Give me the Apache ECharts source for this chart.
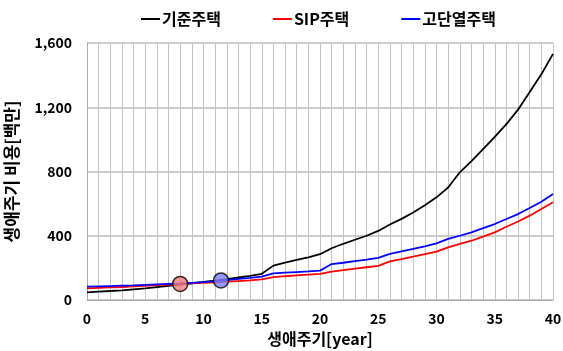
<!DOCTYPE html>
<html><head><meta charset="utf-8">
<script src="https://cdn.jsdelivr.net/npm/echarts@6/dist/echarts.min.js"></script>
<style>html,body{margin:0;padding:0;background:#fff}#c{width:563px;height:351px}</style>
</head><body><div id="c"></div>
<script>
const years = Array.from({length:41},(_,i)=>i);
const baseHouse = [47,52,56,60,66,72,80,88,96,104,112,120,130,140,150,163,214,232,250,266,285,322,350,375,400,430,470,505,545,590,639,700,795,865,940,1015,1095,1185,1295,1405,1532];
const sipHouse = [72,75,78,81,85,88,92,96,100,103,106,110,114,118,122,128,142,148,153,158,163,177,186,195,204,213,240,255,270,286,301,328,349,369,394,421,456,489,525,567,608];
const insulHouse = [83,85,87,89,91,94,97,100,103,107,111,117,124,132,138,146,166,170,174,178,183,224,232,242,251,262,287,303,318,334,352,380,400,421,448,473,504,535,573,612,660];
const seriesNames = ['기준주택','SIP주택','고단열주택'];
const redPoint = [8,100];
const bluePoint = [11.5,122];

const font = '"Noto Sans CJK KR", "Noto Sans", sans-serif';
const pairs = arr => years.map((x,i)=>[x,arr[i]]);
const chart = echarts.init(document.getElementById('c'));
chart.setOption({
  animation:false,
  textStyle:{fontFamily:font},
  legend:{
    top:6, left:136, itemGap:52, itemWidth:19, itemHeight:2,
    icon:'rect',
    textStyle:{fontFamily:font,fontWeight:'bold',fontSize:16,color:'#000',padding:[0,0,0,-3]},
    data:seriesNames
  },
  grid:{left:87,right:10,top:43,bottom:51,outerBoundsMode:'none',containLabel:false},
  xAxis:{
    type:'value',min:0,max:40,interval:1,
    name:'생애주기[year]',nameLocation:'middle',nameGap:31,
    nameTextStyle:{fontFamily:font,fontWeight:'bold',fontSize:16,color:'#000'},
    axisLine:{lineStyle:{color:'#aaa'}},
    axisTick:{show:false},
    axisLabel:{color:'#000',fontWeight:'bold',fontSize:14,margin:12,fontFamily:font,
      formatter:v=> v%5===0 ? String(v) : ''},
    splitLine:{show:true,lineStyle:{color:'#c4c4c4',width:1}}
  },
  yAxis:{
    type:'value',min:0,max:1600,interval:400,
    name:'생애주기 비용[백만]',nameLocation:'middle',nameGap:67,
    nameTextStyle:{fontFamily:font,fontWeight:'bold',fontSize:17,color:'#000'},
    axisLine:{show:true,lineStyle:{color:'#aaa'}},
    axisTick:{show:false},
    axisLabel:{color:'#000',fontWeight:'bold',fontSize:14,margin:15,fontFamily:font,
      formatter:v=> v.toLocaleString('en-US')},
    splitLine:{show:true,lineStyle:{color:'#bdbdbd',width:1.5}}
  },
  series:[
    {name:seriesNames[0],type:'line',data:pairs(baseHouse),showSymbol:false,symbol:'none',
      lineStyle:{color:'#000',width:1.8},itemStyle:{color:'#000'},z:3},
    {name:seriesNames[1],type:'line',data:pairs(sipHouse),showSymbol:false,symbol:'none',
      lineStyle:{color:'#ff0000',width:1.8},itemStyle:{color:'#ff0000'},z:3},
    {name:seriesNames[2],type:'line',data:pairs(insulHouse),showSymbol:false,symbol:'none',
      lineStyle:{color:'#0000ff',width:1.8},itemStyle:{color:'#0000ff'},z:4},
    {type:'scatter',data:[redPoint],symbolSize:15,z:5,
      itemStyle:{color:'#f47c7c',borderColor:'#000',borderWidth:1.5}},
    {type:'scatter',data:[bluePoint],symbolSize:15,z:5,
      itemStyle:{color:'#7f7ff5',borderColor:'#000',borderWidth:1.5}}
  ]
});
</script></body></html>
